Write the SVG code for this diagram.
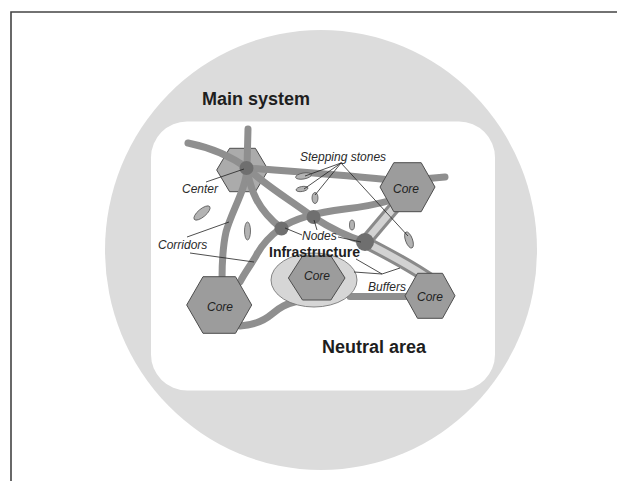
<svg xmlns="http://www.w3.org/2000/svg" width="617" height="481" viewBox="0 0 617 481">
<style>
.corr{fill:none;stroke:#8f8f8f;stroke-width:7;stroke-linecap:round;stroke-linejoin:round}
.bandO{fill:none;stroke:#8a8a8a;stroke-width:13;stroke-linecap:butt}
.bandI{fill:none;stroke:#d2d2d2;stroke-width:7;stroke-linecap:butt}
.hex{fill:#9c9c9c;stroke:#4d4d4d;stroke-width:1}
.dot{fill:#6f6f6f}
.stone{fill:#b3b3b3;stroke:#555;stroke-width:0.8}
.ptr{fill:none;stroke:#222;stroke-width:0.8}
.lbl{font-family:"Liberation Sans",Arial,sans-serif;font-style:italic;font-size:12px;fill:#2a2a2a}
.big{font-family:"Liberation Sans",Arial,sans-serif;font-weight:bold;font-size:18px;fill:#1e1e1e}
.core{font-family:"Liberation Sans",Arial,sans-serif;font-style:italic;font-size:12px;fill:#222;text-anchor:middle}
</style>
<rect width="617" height="481" fill="#fff"/>
<path d="M11,481 V12 H617" fill="none" stroke="#444" stroke-width="1.6"/>
<ellipse cx="321" cy="250" rx="216" ry="220" fill="#dcdcdc"/>
<rect x="151" y="121.5" width="344" height="269" rx="36" fill="#fff"/>
<text class="big" x="202" y="105">Main system</text>
<text class="big" x="322" y="353">Neutral area</text>

<g id="center-hex"><polygon class="hex" style="fill:#ababab" points="216.7,170 229.6,148.3 255.4,148.3 268.3,170 255.4,191.7 229.6,191.7"/></g>

<g id="connectors">
<path class="corr" d="M188,143 C212,148 232,157 247,168 C285,171 345,175 400,181 L445,177"/>
<path class="corr" d="M248,129 L247,168"/>
<path class="corr" d="M247,168 C246,190 232,210 226,232 C222,250 222,265 222,280"/>
<path class="corr" d="M247,168 C250,190 258,210 281,228"/>
<path class="corr" d="M247,168 C265,185 290,200 313,217 C330,228 345,236 365,242"/>
<path class="corr" d="M281,228 C270,236 262,244 256,256 C250,266 244,274 240,282"/>
<path class="corr" d="M281,228 C295,218 320,212 345,209 C365,207 378,204 396,199"/>
<path class="corr" d="M240,326 C255,325 265,320 272,314 C280,307 286,304 298,301"/>
<path class="corr" d="M350,296.5 L410,296.5"/>
<path class="bandO" d="M398,203 L365,242"/>
<path class="bandI" d="M398,203 L365,242"/>
<path class="bandO" d="M365,242 C390,255 412,266 434,282"/>
<path class="bandI" d="M365,242 C390,255 412,266 434,282"/>
</g>

<g id="stones">
<ellipse class="stone" cx="303.5" cy="176" rx="8" ry="3" transform="rotate(-10 303.5 176)"/>
<ellipse class="stone" cx="302" cy="189" rx="6" ry="2.5" transform="rotate(-10 302 189)"/>
<ellipse class="stone" cx="315" cy="198" rx="3" ry="5.5"/>
<ellipse class="stone" cx="202" cy="213" rx="10" ry="4" transform="rotate(-40 202 213)"/>
<ellipse class="stone" cx="247.5" cy="231" rx="3" ry="9"/>
<ellipse class="stone" cx="352" cy="225" rx="2.5" ry="5"/>
<ellipse class="stone" cx="409" cy="240" rx="3.5" ry="8.5" transform="rotate(-20 409 240)"/>
</g>

<g id="buffer"><ellipse cx="314" cy="280" rx="43" ry="27" fill="#d6d6d6" stroke="#777" stroke-width="0.9"/></g>

<g id="core-topright"><polygon class="hex" points="380,187 393.8,162.7 421.2,162.7 435,187 421.2,211.7 393.8,211.7"/><text class="core" x="406" y="193">Core</text></g>
<g id="core-bottomleft"><polygon class="hex" points="186.7,305 203,276.7 235.5,276.7 251.7,305 235.5,333.3 203,333.3"/><text class="core" x="220" y="311">Core</text></g>
<g id="core-center"><polygon class="hex" points="288.4,278 302.5,256 330.9,256 345,278 330.9,300 302.5,300"/><text class="core" x="317" y="280">Core</text></g>
<g id="core-bottomright"><polygon class="hex" points="405,295.8 417.5,273.3 442.5,273.3 455,295.8 442.5,318.3 417.5,318.3"/><text class="core" x="430" y="301">Core</text></g>

<g id="nodes">
<circle class="dot" cx="246.5" cy="168" r="7"/>
<circle class="dot" cx="313.5" cy="217" r="7"/>
<circle class="dot" cx="281.5" cy="228.5" r="7"/>
<circle class="dot" cx="365" cy="242" r="9"/>
</g>

<g id="pointers">
<path class="ptr" d="M206,182 L244,169"/>
<path class="ptr" d="M341,163 L305,176 M341,163 L304,189 M341,163 L315,195 M341,163 L408,236"/>
<path class="ptr" d="M187,237 L229,222 M190,253 L254,262"/>
<path class="ptr" d="M302,235 L285,228 M317,230 L314,220 M338,237 L361,242"/>
<path class="ptr" d="M382,274 L356,259 M382,274 L354,272 M382,274 L400,268"/>
</g>

<g id="labels">
<text class="lbl" x="182" y="193">Center</text>
<text class="lbl" x="300" y="161">Stepping stones</text>
<text class="lbl" x="158" y="249">Corridors</text>
<text class="lbl" x="302" y="240">Nodes</text>
<text class="lbl" x="368" y="291">Buffers</text>
<text x="269" y="256.5" font-family="Liberation Sans, Arial, sans-serif" font-weight="bold" font-size="14" fill="#1e1e1e">Infrastructure</text>
</g>
</svg>
